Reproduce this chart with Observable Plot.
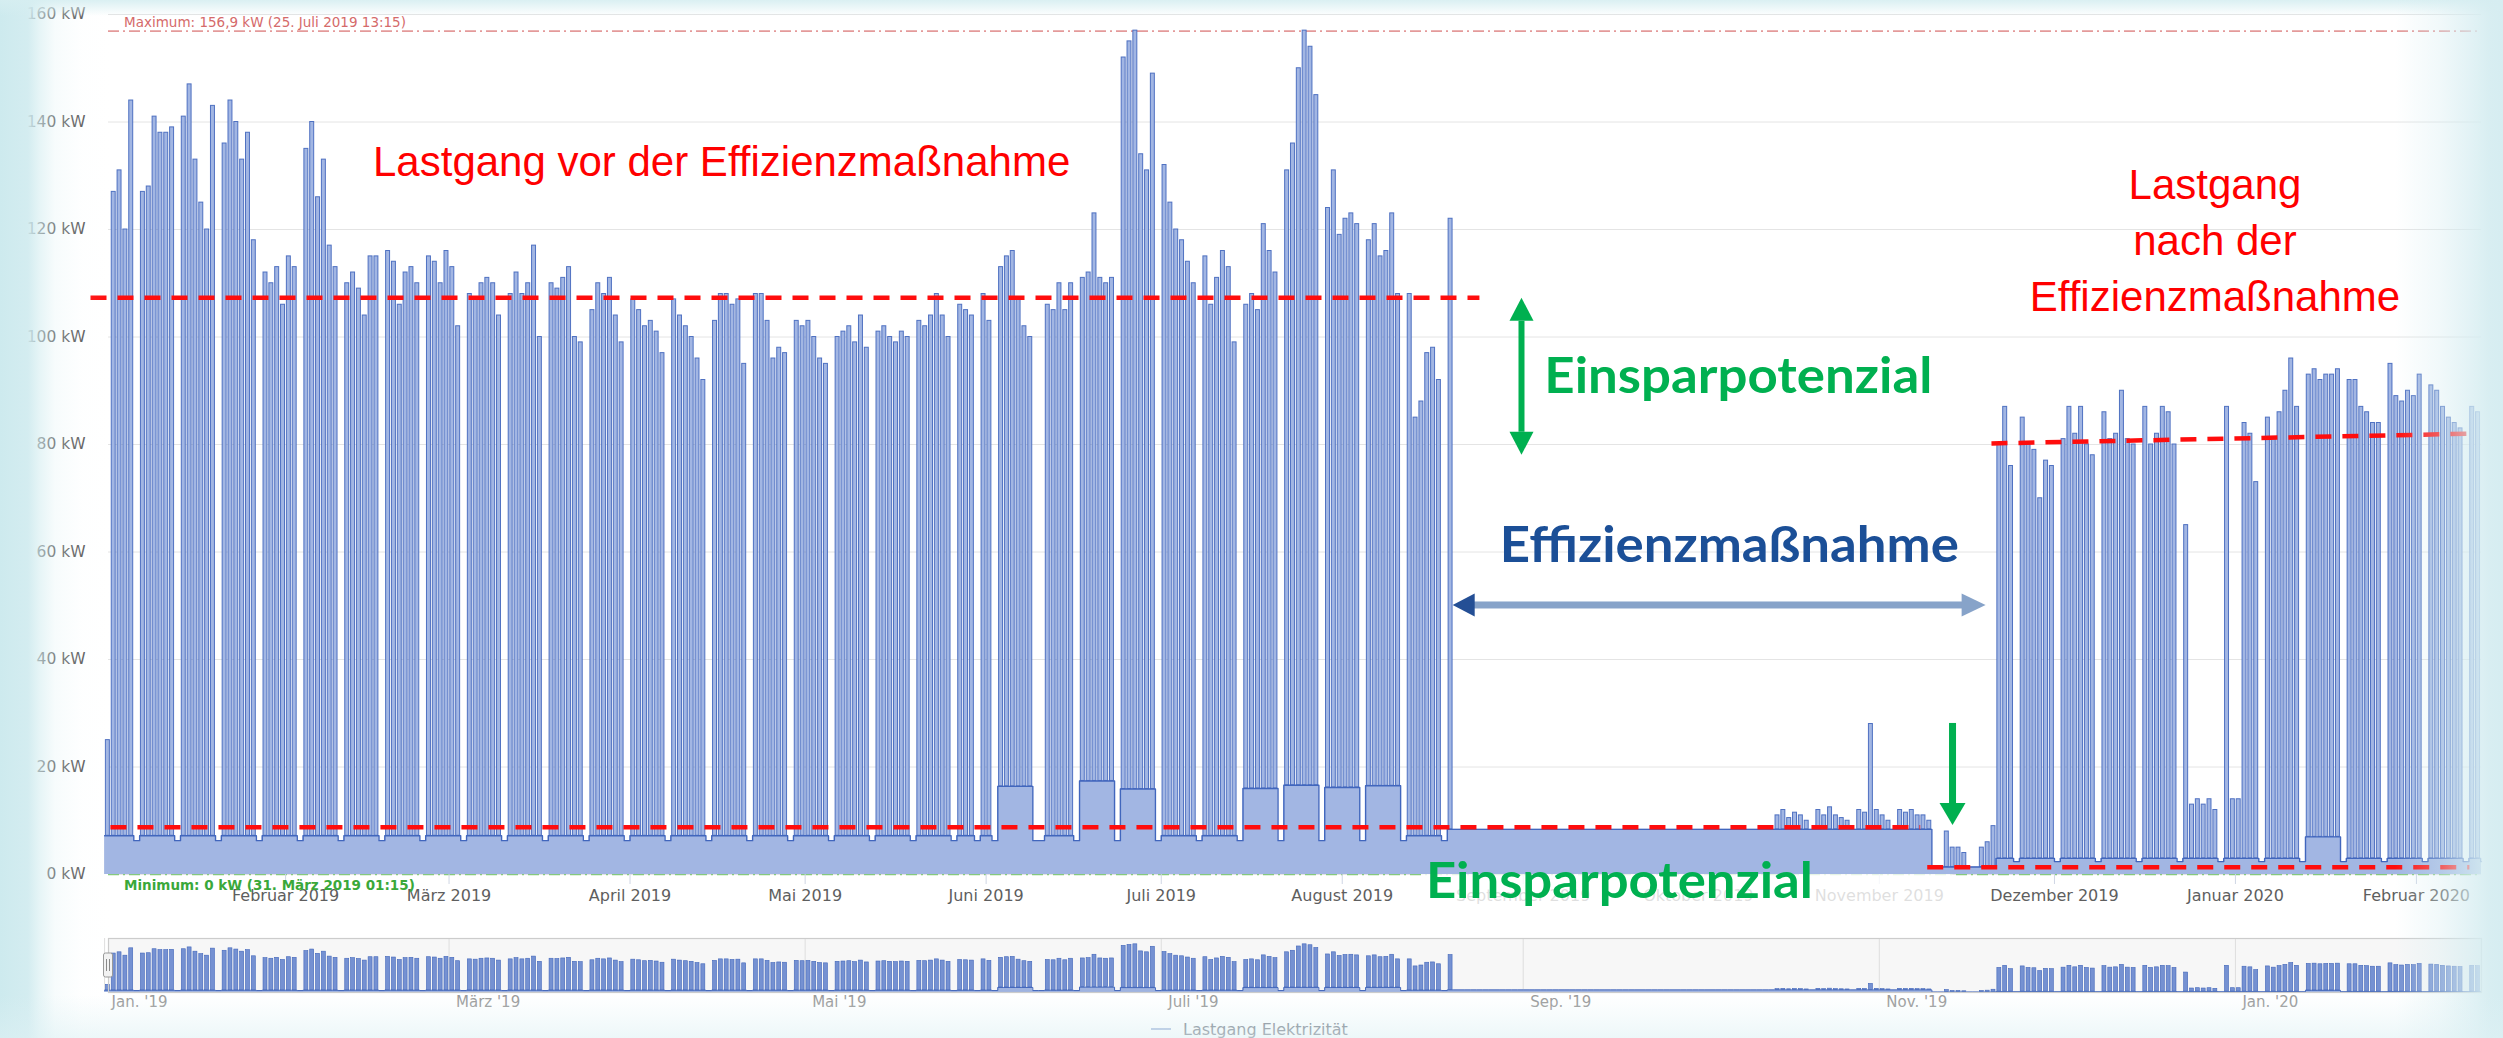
<!DOCTYPE html>
<html lang="de">
<head>
<meta charset="utf-8">
<title>Lastgang Elektrizität</title>
<script src="https://cdn.jsdelivr.net/npm/d3@7"></script>
<script src="https://cdn.jsdelivr.net/npm/@observablehq/plot@0.6"></script>
<style>
  html, body { margin: 0; padding: 0; background: #ffffff; }
  #wrap { position: relative; width: 2503px; height: 1038px; overflow: hidden; background: #ffffff; }
  #main { position: absolute; left: 0; top: 0; }
  #nav { position: absolute; left: 0; top: 930px; }
  #legend { position: absolute; left: 1151px; top: 1017px; height: 24px; display: flex; align-items: center;
            font-family: "DejaVu Sans", sans-serif; font-size: 16px; color: #767b86; white-space: nowrap; }
  #legend .sym { display: inline-block; width: 20px; height: 2px; background: #a9bbdd; margin-right: 12px; }
  .ov { position: absolute; pointer-events: none; }
  #ovLeft { left: 0; top: 0; width: 115px; height: 1038px;
    background: linear-gradient(to right, rgba(205,234,238,1) 0px, rgba(208,235,239,0.92) 28px, rgba(214,238,241,0.6) 40px, rgba(226,243,245,0.28) 55px, rgba(240,249,250,0.08) 82px, rgba(255,255,255,0) 110px); }
  #ovTop { left: 0; top: 0; width: 2503px; height: 16px;
    background: linear-gradient(to bottom, rgba(214,238,241,0.9), rgba(255,255,255,0)); }
  #ovRight { left: 2395px; top: 0; width: 108px; height: 1038px;
    background: linear-gradient(to right, rgba(214,237,241,0) 0px, rgba(214,237,241,0.35) 45px, rgba(214,237,241,0.7) 75px, rgba(214,237,241,0.95) 95px, rgba(214,237,241,1) 108px); }
  #ovBottom { left: 0; top: 995px; width: 2503px; height: 43px;
    background: linear-gradient(to bottom, rgba(222,241,244,0) 0px, rgba(222,241,244,0.3) 25px, rgba(222,241,244,0.55) 43px); }
</style>
</head>
<body>
<div id="wrap">
  <div id="main"></div>
  <div id="nav"></div>
  <div id="legend"><span class="sym"></span><span>Lastgang Elektrizität</span></div>
  <div class="ov" id="ovLeft"></div>
  <div class="ov" id="ovTop"></div>
  <div class="ov" id="ovRight"></div>
  <div class="ov" id="ovBottom"></div>
</div>
<script>
// ---------------- DATA (daily peak load in kW, 0 = no working-day peak) ----------------
const monthStarts = ["2019-01-01","2019-02-01","2019-03-01","2019-04-01","2019-05-01","2019-06-01","2019-07-01",
                     "2019-08-01","2019-09-01","2019-10-01","2019-11-01","2019-12-01","2020-01-01","2020-02-01"];
const peaks_2019_01 = [25,127,131,120,144,0,127,128,141,138,138,139,0,141,147,133,125,120,143,0,136,144,140,133,138,118,0,112,110,113,106];
const peaks_2019_02 = [115,113,0,135,140,126,133,117,113,0,110,112,109,104,115,115,0,116,114,106,112,113,110,0,115,114,110,116];
const peaks_2019_03 = [113,102,0,108,107,110,111,110,104,0,108,112,108,110,117,100,0,110,109,111,113,100,99,0,105,110,108,111,104,99,0];
const peaks_2019_04 = [107,105,102,103,101,97,0,107,104,102,100,96,92,0,103,108,108,106,107,95,0,108,108,103,96,98,97,0,103,102];
const peaks_2019_05 = [103,100,96,95,0,100,101,102,99,104,98,0,101,102,100,99,101,100,0,103,102,104,108,104,100,0,106,105,104,0,108];
const peaks_2019_06 = [103,0,113,115,116,107,102,100,0,0,106,105,110,105,110,0,111,112,123,111,110,111,0,152,155,157,134,131,149,0];
const peaks_2019_07 = [132,125,120,118,114,110,0,115,106,111,116,113,99,0,106,108,105,121,116,112,0,131,136,150,157,154,145,0,124,131,119];
const peaks_2019_08 = [122,123,121,0,118,121,115,116,123,108,0,108,85,88,97,98,92,0,122,0,0,0,0,0,0,0,0,0,0,0,0];
const peaks_2019_09 = [0,0,0,0,0,0,0,0,0,0,0,0,0,0,0,0,0,0,0,0,0,0,0,0,0,0,0,0,0,0];
const peaks_2019_10 = [0,0,0,0,0,0,0,0,0,0,0,0,0,11,12,10.5,11.5,11,10,0,12,11,12.5,11,10.5,10,0,12,11.5,28,12];
const peaks_2019_11 = [11,10,0,12,11.5,12,11,11,10,0,0,8,5,5,4,0,0,5,6,9,80,87,76,0,85,80,79,70,77,76];
const peaks_2019_12 = [0,81,87,82,87,80,78,0,86,81,82,90,81,80,0,87,80,82,87,86,80,0,65,13,14,13,14,12,0,87,14];
const peaks_2020_01 = [14,84,82,73,0,85,81,86,90,96,87,0,93,94,92,93,93,94,0,92,92,87,86,84,84,0,95,89,88,90,89];
const peaks_2020_02 = [93,0,91,90,87,85,84,83,0,87,86,0];
const peaksByMonth = [peaks_2019_01,peaks_2019_02,peaks_2019_03,peaks_2019_04,peaks_2019_05,peaks_2019_06,peaks_2019_07,
                      peaks_2019_08,peaks_2019_09,peaks_2019_10,peaks_2019_11,peaks_2019_12,peaks_2020_01,peaks_2020_02];

// base load (night / rest-day floor), read as step levels
const restFloorDates = ["2019-01-01","2019-08-19","2019-11-10","2019-11-21"];
const restFloorKW    = [6.3, 8.4, 1.4, 2.4];
const workFloorDates = ["2019-01-01","2019-08-19","2019-11-10","2019-11-21"];
const workFloorKW    = [7.2, 8.4, 1.4, 3.0];
// weeks (Monday) with an elevated night floor
const raisedFloorWeeks = ["2019-06-03","2019-06-17","2019-06-24","2019-07-15","2019-07-22","2019-07-29","2019-08-05","2020-01-13"];
const raisedFloorKW    = [16.4, 17.4, 15.9, 16.0, 16.6, 16.2, 16.5, 7.0];

const yTicks = [0,20,40,60,80,100,120,140,160];
const axisTickDates = ["2019-02-01","2019-03-01","2019-04-01","2019-05-01","2019-06-01","2019-07-01","2019-08-01",
                       "2019-09-01","2019-10-01","2019-11-01","2019-12-01","2020-01-01","2020-02-01"];
const monthNamesDe = ["Januar","Februar","März","April","Mai","Juni","Juli","August","September","Oktober","November","Dezember"];
const navTickDates  = ["2019-01-01","2019-03-01","2019-05-01","2019-07-01","2019-09-01","2019-11-01","2020-01-01"];
const navTickLabels = ["Jan. '19","März '19","Mai '19","Juli '19","Sep. '19","Nov. '19","Jan. '20"];
const maxValue = 156.9, minValue = 0;
const maxLabel = "Maximum: 156,9 kW (25. Juli 2019 13:15)";
const minLabel = "Minimum: 0 kW (31. März 2019 01:15)";

// ---------------- BUILD ----------------
const MS_DAY = 864e5;
const toDate = s => new Date(s.length === 10 ? s + "T00:00:00Z" : s);
const xDomain = [toDate("2019-01-01T16:00:00Z"), toDate("2020-02-12T03:36:00Z")];
function stepValue(dates, values, t) {
  let v = values[0];
  dates.forEach((d, i) => { if (+toDate(d) <= t) v = values[i]; });
  return v;
}
const raisedMap = new Map(raisedFloorWeeks.map((d, i) => [+toDate(d), raisedFloorKW[i]]));
const days = [];
peaksByMonth.forEach((arr, m) => {
  const m0 = +toDate(monthStarts[m]);
  arr.forEach((p, i) => {
    const t = m0 + i * MS_DAY;
    const date = new Date(t);
    const monday = t - ((date.getUTCDay() + 6) % 7) * MS_DAY;
    const floor = p > 0
      ? (raisedMap.has(monday) ? raisedMap.get(monday) : stepValue(workFloorDates, workFloorKW, t))
      : stepValue(restFloorDates, restFloorKW, t);
    days.push({date, peak: p, floor, start: new Date(t + 0.22 * MS_DAY), end: new Date(t + 0.9 * MS_DAY)});
  });
});
const spikes = days.filter(d => d.peak > 0);
const floorSeries = days.map(d => ({date: d.date, floor: d.floor}));
floorSeries.push({date: xDomain[1], floor: days[days.length - 1].floor});

const FILL = "#a2b6e3", LINE = "#4166bd";

// annotation reference lines (dashed red)
const redLines = [
  {x1: "2018-12-29T14:00Z", x2: "2019-08-24T12:00Z", y1: 107.3, y2: 107.3},
  {x1: "2019-01-02T00:00Z", x2: "2019-11-08T00:00Z", y1: 8.8,   y2: 8.8},
  {x1: "2019-11-20T05:00Z", x2: "2020-02-09T21:00Z", y1: 80.2,  y2: 82.0},
  {x1: "2019-11-09T05:00Z", x2: "2020-02-10T02:00Z", y1: 1.35,  y2: 1.35}
].map(d => ({...d, x1: toDate(d.x1), x2: toDate(d.x2)}));

const main = Plot.plot({
  width: 2503, height: 930,
  marginLeft: 108, marginRight: 22, marginTop: 14, marginBottom: 56,
  style: {fontFamily: "'DejaVu Sans', sans-serif", fontSize: "15px", color: "#666", background: "transparent", overflow: "visible"},
  x: {type: "utc", domain: xDomain},
  y: {domain: [0, 160]},
  marks: [
    Plot.gridY(yTicks, {stroke: "#e4e4e4", strokeOpacity: 1}),
    Plot.axisY(yTicks, {tickFormat: d => `${d} kW`, tickSize: 0, tickPadding: 23, label: null, fill: "#5a5a5a", fontSize: 15.5}),
    Plot.ruleY([maxValue], {stroke: "#e49a9a", strokeWidth: 1.6, strokeDasharray: "11,4,2,4"}),
    Plot.ruleY([minValue], {stroke: "#86c97e", strokeWidth: 1.6, strokeDasharray: "11,4,2,4"}),
    Plot.axisX(axisTickDates.map(toDate), {
      tickFormat: d => `${monthNamesDe[d.getUTCMonth()]} ${d.getUTCFullYear()}`,
      tickSize: 10, tickPadding: 5, label: null, stroke: "#cfd6e4", fill: "#5e5e5e", fontSize: 16
    }),
    // semi-opaque white box behind the lower annotation
    Plot.rect([{x1: toDate("2019-08-14T14:00Z"), x2: toDate("2019-11-13T14:00Z"), y1: -7.6, y2: 2.6}],
      {x1: "x1", x2: "x2", y1: "y1", y2: "y2", fill: "white", fillOpacity: 0.8}),
    Plot.areaY(floorSeries, {x: "date", y: "floor", curve: "step-after", fill: FILL}),
    Plot.rect(spikes, {x1: "start", x2: "end", y1: "floor", y2: "peak", fill: FILL, stroke: LINE, strokeWidth: 1, strokeOpacity: 0.9}),
    Plot.lineY(floorSeries, {x: "date", y: "floor", curve: "step-after", stroke: LINE, strokeWidth: 1.4}),
    Plot.link(redLines, {x1: "x1", x2: "x2", y1: "y1", y2: "y2", stroke: "#ff0d0d", strokeWidth: 4.5, strokeDasharray: "16,11"})
  ]
});
document.getElementById("main").appendChild(main);

// ---------------- ANNOTATIONS (placed through the plot's scales) ----------------
const sx = main.scale("x"), sy = main.scale("y");
const PX = s => sx.apply(toDate(s));
const PY = v => sy.apply(v);
const ann = d3.select(main).append("g").attr("class", "annotations").attr("text-anchor", "start");

// max / min labels
ann.append("text").attr("x", PX("2019-01-04T10:00Z")).attr("y", PY(maxValue) - 4).attr("text-anchor", "start")
  .attr("font-family", "DejaVu Sans").attr("font-size", 13.5).attr("fill", "#d56a6a").text(maxLabel);
ann.append("text").attr("x", PX("2019-01-04T10:00Z")).attr("y", PY(minValue) + 16).attr("text-anchor", "start")
  .attr("font-family", "DejaVu Sans").attr("font-size", 13.5).attr("fill", "#3aa83a").attr("font-weight", 600).text(minLabel);

const GREEN = "#00b050";
function vArrow(x, yTip1, yTip2, color, shaftW, headW, headL, doubleHead) {
  const top = doubleHead ? yTip1 + headL : yTip1;
  ann.append("rect").attr("x", x - shaftW / 2).attr("y", top).attr("width", shaftW).attr("height", (yTip2 - headL) - top).attr("fill", color);
  ann.append("polygon").attr("points", `${x},${yTip2} ${x - headW / 2},${yTip2 - headL} ${x + headW / 2},${yTip2 - headL}`).attr("fill", color);
  if (doubleHead) ann.append("polygon").attr("points", `${x},${yTip1} ${x - headW / 2},${yTip1 + headL} ${x + headW / 2},${yTip1 + headL}`).attr("fill", color);
}
vArrow(PX("2019-08-31T19:00Z"), PY(107.2), PY(78.0), GREEN, 6, 24, 23, true);
vArrow(PX("2019-11-13T15:00Z"), PY(28.1), PY(9.1), GREEN, 7, 26, 22, false);

// horizontal double arrow
(function () {
  const y = PY(50.05), xl = PX("2019-08-20T00:00Z"), xr = PX("2019-11-19T07:00Z");
  ann.append("rect").attr("x", xl + 20).attr("y", y - 3.5).attr("width", (xr - 22) - (xl + 20)).attr("height", 7).attr("fill", "#87a3c9");
  ann.append("polygon").attr("points", `${xl},${y} ${xl + 22},${y - 11.5} ${xl + 22},${y + 11.5}`).attr("fill", "#244f95");
  ann.append("polygon").attr("points", `${xr},${y} ${xr - 24},${y - 11.5} ${xr - 24},${y + 11.5}`).attr("fill", "#87a3c9");
})();

const texts = [
  {t: "Lastgang vor der Effizienzmaßnahme", x: "2019-02-16T01:30Z", kw: 129.9, anchor: "start", size: 42, fill: "#ff0000", fam: "Liberation Sans, Arial, sans-serif", w: 400},
  {t: "Lastgang", x: "2019-12-28T14:00Z", kw: 125.6, anchor: "middle", size: 42, fill: "#ff0000", fam: "Liberation Sans, Arial, sans-serif", w: 400},
  {t: "nach der", x: "2019-12-28T14:00Z", kw: 115.2, anchor: "middle", size: 42, fill: "#ff0000", fam: "Liberation Sans, Arial, sans-serif", w: 400},
  {t: "Effizienzmaßnahme", x: "2019-12-28T14:00Z", kw: 104.7, anchor: "middle", size: 42, fill: "#ff0000", fam: "Liberation Sans, Arial, sans-serif", w: 400},
  {t: "Einsparpotenzial", x: "2019-09-04T17:00Z", kw: 89.5, anchor: "start", size: 50, fill: GREEN, fam: "Lato, 'Open Sans', sans-serif", w: 700, len: 388},
  {t: "Effizienzmaßnahme", x: "2019-08-28T02:00Z", kw: 58.05, anchor: "start", size: 49, fill: "#1b4f97", fam: "Lato, 'Open Sans', sans-serif", w: 700, len: 459},
  {t: "Einsparpotenzial", x: "2019-08-15T10:00Z", kw: -4.47, anchor: "start", size: 50, fill: GREEN, fam: "Lato, 'Open Sans', sans-serif", w: 700, len: 387}
];
texts.forEach(d => {
  const el = ann.append("text").attr("x", PX(d.x)).attr("y", PY(d.kw))
    .attr("text-anchor", d.anchor).attr("font-family", d.fam).attr("font-size", d.size)
    .attr("font-weight", d.w).attr("fill", d.fill).text(d.t);
  if (d.len) el.attr("textLength", d.len).attr("lengthAdjust", "spacingAndGlyphs");
});

// ---------------- NAVIGATOR ----------------
const navLabelByTime = new Map(navTickDates.map((d, i) => [+toDate(d), navTickLabels[i]]));
const nav = Plot.plot({
  width: 2503, height: 86,
  marginLeft: 108, marginRight: 22, marginTop: 8, marginBottom: 24,
  style: {fontFamily: "'DejaVu Sans', sans-serif", fontSize: "15px", color: "#999", background: "transparent", overflow: "visible"},
  x: {type: "utc", domain: xDomain},
  y: {domain: [0, 176], axis: null},
  marks: [
    Plot.frame({fill: "#f7f7f7", stroke: "none"}),
    Plot.gridX(navTickDates.map(toDate), {stroke: "#dedede", strokeOpacity: 1}),
    Plot.areaY(floorSeries, {x: "date", y: "floor", curve: "step-after", fill: "#9fb3e0"}),
    Plot.rect(spikes, {x1: "start", x2: "end", y1: "floor", y2: "peak", fill: "#7591d2", stroke: "#4266ba", strokeWidth: 0.6}),
    Plot.lineY(floorSeries, {x: "date", y: "floor", curve: "step-after", stroke: "#4266ba", strokeWidth: 1}),
    Plot.frame({stroke: "#cccccc", strokeWidth: 1.2}),
    Plot.axisX(navTickDates.map(toDate), {tickSize: 0, tickPadding: 4, textAnchor: "start", dx: 7, label: null,
      tickFormat: d => navLabelByTime.get(+d), fill: "#9a9a9a"})
  ]
});
document.getElementById("nav").appendChild(nav);
// left navigator handle
(function () {
  const g = d3.select(nav).append("g");
  const x = 108, y0 = 23, h = 24;
  g.append("rect").attr("x", x - 4.5).attr("y", y0).attr("width", 9).attr("height", h).attr("rx", 2)
    .attr("fill", "#f2f2f2").attr("stroke", "#999").attr("stroke-width", 1);
  g.append("line").attr("x1", x - 1.5).attr("x2", x - 1.5).attr("y1", y0 + 6).attr("y2", y0 + h - 6).attr("stroke", "#888");
  g.append("line").attr("x1", x + 1.5).attr("x2", x + 1.5).attr("y1", y0 + 6).attr("y2", y0 + h - 6).attr("stroke", "#888");
})();
</script>
</body>
</html>
